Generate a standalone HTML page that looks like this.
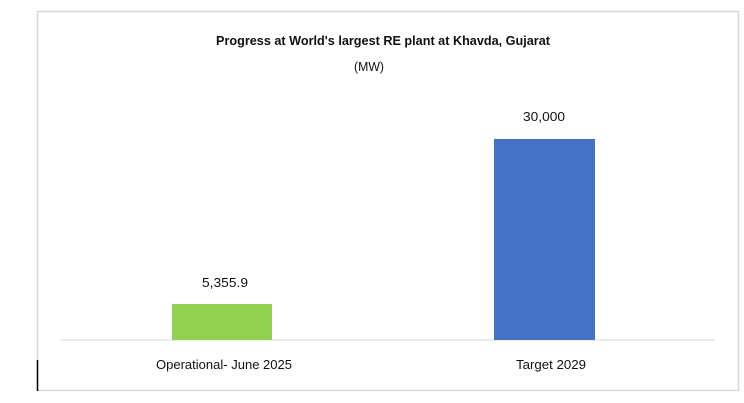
<!DOCTYPE html>
<html><head><meta charset="utf-8"><style>
html,body{margin:0;padding:0;background:#fff;width:744px;height:403px;overflow:hidden}
svg text{font-family:"Liberation Sans",sans-serif;fill:#111}
</style></head><body>
<svg width="744" height="403" viewBox="0 0 744 403" xmlns="http://www.w3.org/2000/svg">
<rect x="37.5" y="11.5" width="701" height="379" fill="#fff" stroke="#d9d9d9" stroke-width="1.5"/>
<line x1="37.5" y1="360" x2="37.5" y2="391" stroke="#000" stroke-width="1.5"/>
<text x="216" y="45" font-size="13" font-weight="bold" textLength="334" lengthAdjust="spacingAndGlyphs">Progress at World's largest RE plant at Khavda, Gujarat</text>
<text x="369" y="71" font-size="13" text-anchor="middle" textLength="30" lengthAdjust="spacingAndGlyphs">(MW)</text>
<line x1="60" y1="340" x2="715" y2="340" stroke="#d9d9d9" stroke-width="1"/>
<rect x="172" y="304" width="100" height="36" fill="#92d050"/>
<rect x="494" y="139" width="101" height="201" fill="#4472c4"/>
<text x="202" y="287" font-size="13" textLength="46" lengthAdjust="spacingAndGlyphs">5,355.9</text>
<text x="523" y="121" font-size="13" textLength="42" lengthAdjust="spacingAndGlyphs">30,000</text>
<text x="156" y="369" font-size="13" textLength="136" lengthAdjust="spacingAndGlyphs">Operational- June 2025</text>
<text x="516" y="369" font-size="13" textLength="70" lengthAdjust="spacingAndGlyphs">Target 2029</text>
</svg>
</body></html>
